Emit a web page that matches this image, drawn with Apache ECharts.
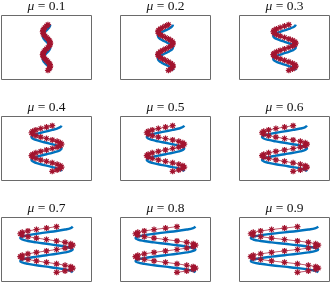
<!DOCTYPE html>
<html>
<head>
<meta charset="utf-8">
<script src="https://cdn.jsdelivr.net/npm/echarts@6/dist/echarts.min.js"></script>
<style>html,body{margin:0;padding:0;background:#fff;}#c{width:332px;height:282px;}</style>
</head>
<body>
<div id="c"></div>
<script>
// panel labels (mu values)
const muLabels = ['0.1','0.2','0.3','0.4','0.5','0.6','0.7','0.8','0.9'];
// shared time samples (vertical axis, top to bottom)
const tVals = [0,0.031,0.063,0.094,0.125,0.156,0.188,0.219,0.25,0.281,0.313,0.344,0.375,0.406,0.438,0.469,0.5,0.531,0.563,0.594,0.625,0.656,0.688,0.719,0.75,0.781,0.813,0.844,0.875,0.906,0.938,0.969,1];

// blue reference curves, one per panel
const blue01 = [0.1,0.092,0.071,0.038,0,-0.038,-0.071,-0.092,-0.1,-0.092,-0.071,-0.038,0,0.038,0.071,0.092,0.1,0.092,0.071,0.038,0,-0.038,-0.071,-0.092,-0.1,-0.092,-0.071,-0.038,0,0.038,0.071,0.092,0.1];
const blue02 = [0.2,0.185,0.141,0.077,0,-0.077,-0.141,-0.185,-0.2,-0.185,-0.141,-0.077,0,0.077,0.141,0.185,0.2,0.185,0.141,0.077,0,-0.077,-0.141,-0.185,-0.2,-0.185,-0.141,-0.077,0,0.077,0.141,0.185,0.2];
const blue03 = [0.3,0.277,0.212,0.115,0,-0.115,-0.212,-0.277,-0.3,-0.277,-0.212,-0.115,0,0.115,0.212,0.277,0.3,0.277,0.212,0.115,0,-0.115,-0.212,-0.277,-0.3,-0.277,-0.212,-0.115,0,0.115,0.212,0.277,0.3];
const blue04 = [0.4,0.37,0.283,0.153,0,-0.153,-0.283,-0.37,-0.4,-0.37,-0.283,-0.153,0,0.153,0.283,0.37,0.4,0.37,0.283,0.153,0,-0.153,-0.283,-0.37,-0.4,-0.37,-0.283,-0.153,0,0.153,0.283,0.37,0.4];
const blue05 = [0.5,0.462,0.354,0.191,0,-0.191,-0.354,-0.462,-0.5,-0.462,-0.354,-0.191,0,0.191,0.354,0.462,0.5,0.462,0.354,0.191,0,-0.191,-0.354,-0.462,-0.5,-0.462,-0.354,-0.191,0,0.191,0.354,0.462,0.5];
const blue06 = [0.6,0.554,0.424,0.23,0,-0.23,-0.424,-0.554,-0.6,-0.554,-0.424,-0.23,0,0.23,0.424,0.554,0.6,0.554,0.424,0.23,0,-0.23,-0.424,-0.554,-0.6,-0.554,-0.424,-0.23,0,0.23,0.424,0.554,0.6];
const blue07 = [0.7,0.647,0.495,0.268,0,-0.268,-0.495,-0.647,-0.7,-0.647,-0.495,-0.268,0,0.268,0.495,0.647,0.7,0.647,0.495,0.268,0,-0.268,-0.495,-0.647,-0.7,-0.647,-0.495,-0.268,0,0.268,0.495,0.647,0.7];
const blue08 = [0.8,0.739,0.566,0.306,0,-0.306,-0.566,-0.739,-0.8,-0.739,-0.566,-0.306,0,0.306,0.566,0.739,0.8,0.739,0.566,0.306,0,-0.306,-0.566,-0.739,-0.8,-0.739,-0.566,-0.306,0,0.306,0.566,0.739,0.8];
const blue09 = [0.9,0.832,0.636,0.345,0,-0.345,-0.636,-0.832,-0.9,-0.832,-0.636,-0.345,0,0.345,0.636,0.832,0.9,0.832,0.636,0.345,0,-0.345,-0.636,-0.832,-0.9,-0.832,-0.636,-0.345,0,0.345,0.636,0.832,0.9];

// red asterisk series (numerical), one per panel
const red01 = [0.038,0,-0.038,-0.071,-0.092,-0.1,-0.092,-0.071,-0.038,0,0.038,0.071,0.092,0.1,0.092,0.071,0.038,0,-0.038,-0.071,-0.092,-0.1,-0.092,-0.071,-0.038,0,0.038,0.071,0.092,0.1,0.092,0.071,0.038];
const red02 = [0.077,0,-0.077,-0.141,-0.185,-0.2,-0.185,-0.141,-0.077,0,0.077,0.141,0.185,0.2,0.185,0.141,0.077,0,-0.077,-0.141,-0.185,-0.2,-0.185,-0.141,-0.077,0,0.077,0.141,0.185,0.2,0.185,0.141,0.077];
const red03 = [0.115,0,-0.115,-0.212,-0.277,-0.3,-0.277,-0.212,-0.115,0,0.115,0.212,0.277,0.3,0.277,0.212,0.115,0,-0.115,-0.212,-0.277,-0.3,-0.277,-0.212,-0.115,0,0.115,0.212,0.277,0.3,0.277,0.212,0.115];
const red04 = [0.153,0,-0.153,-0.283,-0.37,-0.4,-0.37,-0.283,-0.153,0,0.153,0.283,0.37,0.4,0.37,0.283,0.153,0,-0.153,-0.283,-0.37,-0.4,-0.37,-0.283,-0.153,0,0.153,0.283,0.37,0.4,0.37,0.283,0.153];
const red05 = [0.191,0,-0.191,-0.354,-0.462,-0.5,-0.462,-0.354,-0.191,0,0.191,0.354,0.462,0.5,0.462,0.354,0.191,0,-0.191,-0.354,-0.462,-0.5,-0.462,-0.354,-0.191,0,0.191,0.354,0.462,0.5,0.462,0.354,0.191];
const red06 = [0.23,0,-0.23,-0.424,-0.554,-0.6,-0.554,-0.424,-0.23,0,0.23,0.424,0.554,0.6,0.554,0.424,0.23,0,-0.23,-0.424,-0.554,-0.6,-0.554,-0.424,-0.23,0,0.23,0.424,0.554,0.6,0.554,0.424,0.23];
const red07 = [0.268,0,-0.268,-0.495,-0.647,-0.7,-0.647,-0.495,-0.268,0,0.268,0.495,0.647,0.7,0.647,0.495,0.268,0,-0.268,-0.495,-0.647,-0.7,-0.647,-0.495,-0.268,0,0.268,0.495,0.647,0.7,0.647,0.495,0.268];
const red08 = [0.306,0,-0.306,-0.566,-0.739,-0.8,-0.739,-0.566,-0.306,0,0.306,0.566,0.739,0.8,0.739,0.566,0.306,0,-0.306,-0.566,-0.739,-0.8,-0.739,-0.566,-0.306,0,0.306,0.566,0.739,0.8,0.739,0.566,0.306];
const red09 = [0.345,0,-0.345,-0.636,-0.832,-0.9,-0.832,-0.636,-0.345,0,0.345,0.636,0.832,0.9,0.832,0.636,0.345,0,-0.345,-0.636,-0.832,-0.9,-0.832,-0.636,-0.345,0,0.345,0.636,0.832,0.9,0.832,0.636,0.345];

const blueSets = [blue01,blue02,blue03,blue04,blue05,blue06,blue07,blue08,blue09];
const redSets = [red01,red02,red03,red04,red05,red06,red07,red08,red09];

const colLeft = [1.5, 120.5, 239.5];
const rowTop = [15.5, 116.5, 217.5];
const boxW = 90, boxH = 64;

const grids = [], xAxes = [], yAxes = [], series = [], graphics = [];
const star = 'path://M0,-1L0,1M-1,0L1,0M-0.72,-0.72L0.72,0.72M-0.72,0.72L0.72,-0.72';

for (let i = 0; i < 9; i++) {
  const c = i % 3, r = Math.floor(i / 3);
  grids.push({ left: colLeft[c], top: rowTop[r], width: boxW, height: boxH, show: true, borderColor: '#6a6a6a', borderWidth: 1, backgroundColor: '#fff' });
  xAxes.push({ type: 'value', gridIndex: i, min: -1.2, max: 1.2, show: false });
  yAxes.push({ type: 'value', gridIndex: i, min: -0.2, max: 1.2, inverse: true, show: false });
  series.push({
    type: 'line', xAxisIndex: i, yAxisIndex: i,
    data: tVals.map((t, k) => [blueSets[i][k], t]),
    showSymbol: false, smooth: 0.5,
    lineStyle: { color: '#0072BD', width: 2.4 }, z: 2
  });
  series.push({
    type: 'line', xAxisIndex: i, yAxisIndex: i,
    data: tVals.map((t, k) => [redSets[i][k], t]),
    symbol: star, symbolSize: 6, showAllSymbol: true,
    itemStyle: { color: '#A2142F', borderColor: '#A2142F', borderWidth: 1.2 },
    lineStyle: { color: '#A2142F', width: 0.7 }, z: 3
  });
  graphics.push({
    type: 'text',
    x: colLeft[c] + boxW / 2, y: rowTop[r] - 9.5,
    style: {
      text: '{i|μ} = ' + muLabels[i],
      font: '13.5px "Liberation Serif"',
      fill: '#111',
      align: 'center', verticalAlign: 'middle',
      rich: { i: { fontStyle: 'italic', fontSize: 13.5, fontFamily: 'Liberation Serif', fill: '#111' } }
    }
  });
}

const chart = echarts.init(document.getElementById('c'), null, { renderer: 'canvas' });
chart.setOption({
  animation: false,
  backgroundColor: '#fff',
  grid: grids, xAxis: xAxes, yAxis: yAxes, series: series, graphic: graphics
});
</script>
</body>
</html>
